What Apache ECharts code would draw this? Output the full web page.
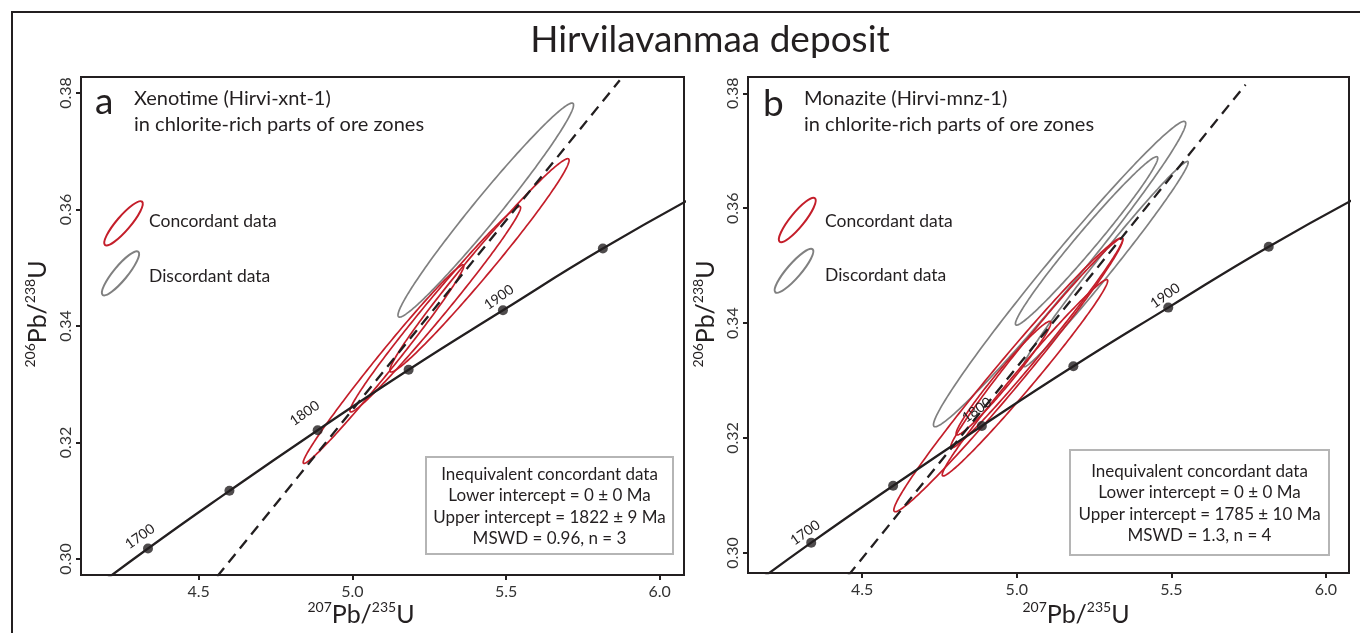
<!DOCTYPE html>
<html>
<head>
<meta charset="utf-8">
<title>Hirvilavanmaa deposit</title>
<script src="https://cdn.jsdelivr.net/npm/echarts@6/dist/echarts.min.js"></script>
<style>
  html, body { margin: 0; padding: 0; background: #ffffff; }
  #chart { width: 1360px; height: 633px; }
</style>
</head>
<body>
<div id="chart"></div>
<script>
// Concordia reference points: age (Ma), 207Pb/235U, 206Pb/238U
const concordiaAges = [1650, 1700, 1750, 1800, 1850, 1900, 1950, 2000];
const concordiaX = [4.078, 4.335, 4.600, 4.887, 5.183, 5.490, 5.815, 6.169];
const concordiaY = [0.2917, 0.3018, 0.3117, 0.3221, 0.3325, 0.3427, 0.3533, 0.3638];
const markedAges = [1700, 1750, 1800, 1850, 1900, 1950];
const labelledAges = [1700, 1800, 1900];

// Axis tick values
const xTickValues = [4.5, 5.0, 5.5, 6.0];
const yTickValues = [0.30, 0.32, 0.34, 0.36, 0.38];

// Error ellipses: [207Pb/235U, 206Pb/238U, ±207Pb/235U, ±206Pb/238U, rho]
const xenotimeConcordant = [
  [5.4135, 0.35041, 0.2916, 0.01831, 0.9847],
  [5.2697, 0.34288, 0.2777, 0.01764, 0.9884],
  [5.1013, 0.33345, 0.2613, 0.01705, 0.9896]
];
const xenotimeDiscordant = [
  [5.434, 0.3599, 0.2856, 0.01837, 0.9817]
];
const monaziteConcordant = [
  [4.9726, 0.33101, 0.3703, 0.02383, 0.9873],
  [5.0265, 0.33049, 0.2676, 0.01708, 0.9875],
  [5.0646, 0.33655, 0.2781, 0.01827, 0.9887],
  [4.9571, 0.33043, 0.1533, 0.00989, 0.9758]
];
const monaziteDiscordant = [
  [5.1385, 0.34854, 0.4080, 0.02657, 0.9864],
  [5.2258, 0.35431, 0.2302, 0.01465, 0.9831],
  [5.2883, 0.35028, 0.2663, 0.01786, 0.9902]
];

// Discordia chords through the origin (lower intercept 0 Ma)
const xenotimeDiscordia = [[4.56, 0.2970], [5.87, 0.3822]];
const monaziteDiscordia = [[4.455, 0.2961], [5.74, 0.3815]];

// Regression summaries
const xenotimeSummary = ['Inequivalent concordant data', 'Lower intercept = 0 ± 0 Ma', 'Upper intercept = 1822 ± 9 Ma', 'MSWD = 0.96, n = 3'];
const monaziteSummary = ['Inequivalent concordant data', 'Lower intercept = 0 ± 0 Ma', 'Upper intercept = 1785 ± 10 Ma', 'MSWD = 1.3, n = 4'];

// ---------------------------------------------------------------------------
const FONT = 'Lato, "Open Sans", "Noto Sans", sans-serif';
const INK = '#231f20';
const RED = '#c41e2a';
const GREY = '#808080';

const chart = echarts.init(document.getElementById('chart'), null, { renderer: 'canvas' });

const concordiaLine = concordiaX.map((x, i) => [x, concordiaY[i]]);
const concordiaDots = markedAges.map(a => {
  const i = concordiaAges.indexOf(a);
  return [concordiaX[i], concordiaY[i]];
});
const concordiaLabels = labelledAges.map(a => {
  const i = concordiaAges.indexOf(a);
  return [concordiaX[i], concordiaY[i], a];
});

// Layout of the two panels
const panels = [
  {
    grid: { left: 81, top: 77, width: 603, height: 498 },
    x: [4.117, 6.079], y: [0.29725, 0.38275],
    concordant: xenotimeConcordant, discordant: xenotimeDiscordant,
    discordia: xenotimeDiscordia,
    labelOffset: { 1700: [-8, -12], 1800: [-13, -17], 1900: [-4, -13] }
  },
  {
    grid: { left: 748, top: 77, width: 601, height: 496 },
    x: [4.1305, 6.0747], y: [0.29652, 0.38283],
    concordant: monaziteConcordant, discordant: monaziteDiscordant,
    discordia: monaziteDiscordia,
    labelOffset: { 1700: [-6, -10], 1800: [-5, -16], 1900: [-3, -12] }
  }
];

function ellipseSeries(data, idx, color) {
  return {
    type: 'custom',
    xAxisIndex: idx, yAxisIndex: idx,
    dimensions: ['x', 'y', 'sx', 'sy', 'rho'],
    encode: { x: 0, y: 1 },
    data: data,
    clip: true,
    z: 2,
    silent: true,
    renderItem: function (params, api) {
      const cx = api.value(0), cy = api.value(1);
      const hx = api.value(2), hy = api.value(3), rho = api.value(4);
      const s = Math.sqrt(1 - rho * rho);
      const pts = [];
      const n = 240;
      for (let k = 0; k < n; k++) {
        const t = (k / n) * Math.PI * 2;
        pts.push(api.coord([cx + hx * Math.cos(t), cy + hy * (rho * Math.cos(t) + s * Math.sin(t))]));
      }
      return {
        type: 'polygon',
        shape: { points: pts },
        style: { fill: 'none', stroke: color, lineWidth: 1.7 }
      };
    }
  };
}

function ageLabelSeries(idx, offsets) {
  return {
    type: 'custom',
    xAxisIndex: idx, yAxisIndex: idx,
    dimensions: ['x', 'y', 'age'],
    encode: { x: 0, y: 1 },
    data: concordiaLabels,
    z: 6,
    silent: true,
    renderItem: function (params, api) {
      const p = api.coord([api.value(0), api.value(1)]);
      const age = api.value(2);
      const off = offsets[age] || [-6, -13];
      return {
        type: 'text',
        x: p[0] + off[0],
        y: p[1] + off[1],
        rotation: 35 * Math.PI / 180,
        style: {
          text: String(age),
          fill: INK,
          font: '14px ' + FONT,
          align: 'center', verticalAlign: 'middle',
          textAlign: 'center', textVerticalAlign: 'middle'
        }
      };
    }
  };
}

const grids = [], xAxes = [], yAxes = [], series = [];
panels.forEach((p, i) => {
  grids.push(Object.assign({
    show: true, borderColor: INK, borderWidth: 2, backgroundColor: 'transparent',
    outerBoundsMode: 'none', containLabel: false
  }, p.grid));
  xAxes.push({
    type: 'value', gridIndex: i, min: p.x[0], max: p.x[1],
    axisLine: { show: true, onZero: false, lineStyle: { color: INK, width: 2 } },
    axisTick: { show: true, inside: false, length: 5, customValues: xTickValues, lineStyle: { color: INK, width: 2 } },
    axisLabel: { show: true, margin: 9, customValues: xTickValues, color: '#333', fontSize: 16, fontFamily: FONT,
      formatter: v => v.toFixed(1) },
    splitLine: { show: false }
  });
  yAxes.push({
    type: 'value', gridIndex: i, min: p.y[0], max: p.y[1],
    axisLine: { show: true, onZero: false, lineStyle: { color: INK, width: 2 } },
    axisTick: { show: true, inside: false, length: 5, customValues: yTickValues, lineStyle: { color: INK, width: 2 } },
    axisLabel: { show: true, margin: 7, rotate: 90, customValues: yTickValues, color: '#333', fontSize: 16, fontFamily: FONT,
      formatter: v => v.toFixed(2) },
    splitLine: { show: false }
  });
  series.push(ellipseSeries(p.discordant, i, GREY));
  series.push(ellipseSeries(p.concordant, i, RED));
  series.push({
    type: 'line', xAxisIndex: i, yAxisIndex: i, data: concordiaLine,
    smooth: true, showSymbol: false, symbol: 'none', clip: true, z: 4, silent: true,
    lineStyle: { color: INK, width: 2.3 }
  });
  series.push({
    type: 'line', xAxisIndex: i, yAxisIndex: i, data: p.discordia,
    showSymbol: false, symbol: 'none', clip: true, z: 3, silent: true,
    lineStyle: { color: INK, width: 2.3, type: [11, 7] }
  });
  series.push({
    type: 'scatter', xAxisIndex: i, yAxisIndex: i, data: concordiaDots,
    symbol: 'circle', symbolSize: 10, z: 5, silent: true,
    itemStyle: { color: INK }
  });
  series.push(ageLabelSeries(i, p.labelOffset));
});

// Text, legend keys and boxes placed around the plots
function txt(x, y, text, size, extra) {
  return {
    type: 'text', x: x, y: y, silent: true,
    style: Object.assign({ text: text, fill: INK, font: size + 'px ' + FONT,
      textAlign: 'left', textVerticalAlign: 'middle' }, extra || {})
  };
}
function key(cx, cy, rx, ry, deg, color) {
  return {
    type: 'ellipse', x: cx, y: cy, rotation: deg * Math.PI / 180, silent: true,
    shape: { cx: 0, cy: 0, rx: rx, ry: ry },
    style: { fill: 'none', stroke: color, lineWidth: 2 }
  };
}
const richAxis = {
  sup: { fontSize: 14, fontFamily: FONT, fill: INK, color: INK, verticalAlign: 'top', lineHeight: 16 },
  b: { fontSize: 25, fontFamily: FONT, fill: INK, color: INK, lineHeight: 30 }
};
function axisName(x, y, text, rot) {
  return {
    type: 'text', x: x, y: y, rotation: rot || 0, silent: true,
    style: { text: text, rich: richAxis, textAlign: 'center', textVerticalAlign: 'middle', align: 'center', verticalAlign: 'middle' }
  };
}
function summaryBox(x, y, w, h, lines) {
  return [
    { type: 'rect', silent: true, shape: { x: x, y: y, width: w, height: h },
      style: { fill: '#ffffff', stroke: '#b5b5b5', lineWidth: 2 } },
    { type: 'text', silent: true, x: x + w / 2, y: y + h / 2 + 1,
      style: { text: lines.join('\n'), fill: INK, font: '17px ' + FONT, lineHeight: 21.5,
        textAlign: 'center', textVerticalAlign: 'middle' } }
  ];
}

const graphics = [
  { type: 'rect', silent: true, shape: { x: 12, y: 12, width: 1400, height: 700 },
    style: { fill: 'none', stroke: INK, lineWidth: 2 } },
  txt(710, 40, 'Hirvilavanmaa deposit', 37, { textAlign: 'center' }),

  // panel a
  txt(95, 102, 'a', 37),
  txt(134, 99, 'Xenotime (Hirvi-xnt-1)', 20),
  txt(134, 125, 'in chlorite-rich parts of ore zones', 20),
  key(123.5, 223.3, 28.5, 7, 49.5, RED),
  key(120.5, 273.3, 28, 7, 50.5, GREY),
  txt(149, 221, 'Concordant data', 17.5),
  txt(149, 276, 'Discordant data', 17.5),
  axisName(361, 615, '{sup|207}{b|Pb/}{sup|235}{b|U}'),
  axisName(38, 314, '{sup|206}{b|Pb/}{sup|238}{b|U}', Math.PI / 2),

  // panel b
  txt(763, 104, 'b', 37),
  txt(804, 99, 'Monazite (Hirvi-mnz-1)', 20),
  txt(804, 125, 'in chlorite-rich parts of ore zones', 20),
  key(797.3, 220, 28, 7, 51, RED),
  key(794, 270.8, 28.5, 7, 49.2, GREY),
  txt(825, 221, 'Concordant data', 17.5),
  txt(825, 275, 'Discordant data', 17.5),
  axisName(1076, 615, '{sup|207}{b|Pb/}{sup|235}{b|U}'),
  axisName(706, 314, '{sup|206}{b|Pb/}{sup|238}{b|U}', Math.PI / 2)
]
  .concat(summaryBox(426, 457, 247, 97, xenotimeSummary))
  .concat(summaryBox(1070, 450, 259, 105, monaziteSummary));

chart.setOption({
  animation: false,
  backgroundColor: '#ffffff',
  grid: grids,
  xAxis: xAxes,
  yAxis: yAxes,
  series: series,
  graphic: { elements: graphics }
});
</script>
</body>
</html>
